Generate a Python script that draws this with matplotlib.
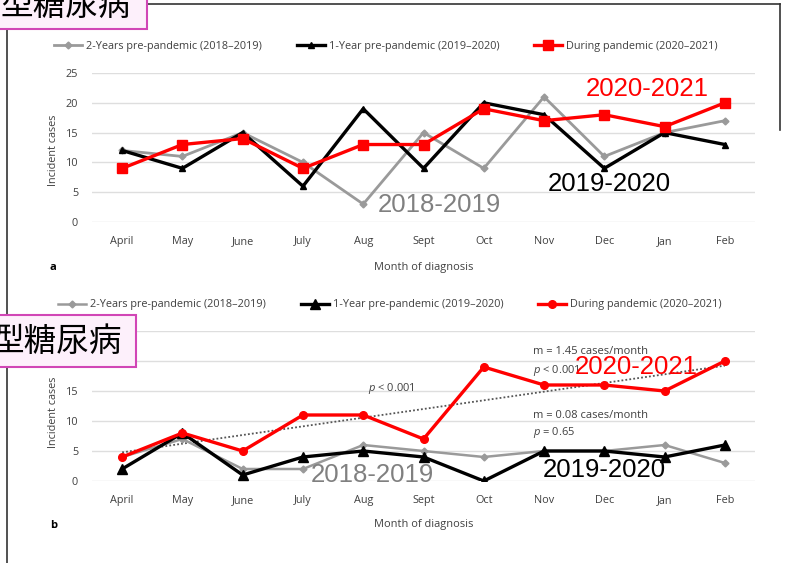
import numpy as np
import matplotlib
matplotlib.use('Agg')
import matplotlib.pyplot as plt
from matplotlib.patches import Rectangle
from matplotlib.lines import Line2D

W, H = 785, 563

months = ['April', 'May', 'June', 'July', 'Aug', 'Sept', 'Oct', 'Nov', 'Dec', 'Jan', 'Feb']
series_names = ['2-Years pre-pandemic (2018\u20132019)',
                '1-Year pre-pandemic (2019\u20132020)',
                'During pandemic (2020\u20132021)']

# panel a
a_2018 = [12, 11, 15, 10, 3, 15, 9, 21, 11, 15, 17]
a_2019 = [12, 9, 15, 6, 19, 9, 20, 18, 9, 15, 13]
a_2020 = [9, 13, 14, 9, 13, 13, 19, 17, 18, 16, 20]

# panel b
b_2018 = [4, 7, 2, 2, 6, 5, 4, 5, 5, 6, 3]
b_2019 = [2, 8, 1, 4, 5, 4, 0, 5, 5, 4, 6]
b_2020 = [4, 8, 5, 11, 11, 7, 19, 16, 16, 15, 20]

yticks = [0, 5, 10, 15, 20, 25]

plt.rcParams['font.family'] = ['Open Sans', 'DejaVu Sans']
plt.rcParams['mathtext.fontset'] = 'custom'
plt.rcParams['mathtext.it'] = 'Open Sans:italic'
plt.rcParams['mathtext.rm'] = 'Open Sans'

TXT = '#404040'
GRAY = '#9a9a9a'


def fx(x):
    return x / W


def fy(y):
    return 1 - y / H


def add_axes_px(x0, x1, y0, y1):
    return fig.add_axes([fx(x0), fy(y1), (x1 - x0) / W, (y1 - y0) / H])


def style_axes(ax):
    ax.set_xlim(-0.5, len(months) - 0.5)
    ax.set_ylim(0, 25)
    ax.set_yticks(yticks)
    ax.set_xticks(range(len(months)))
    ax.set_xticklabels(months)
    ax.yaxis.grid(True, color='#dedede', lw=1)
    ax.set_axisbelow(True)
    for s in ax.spines.values():
        s.set_visible(False)
    ax.tick_params(axis='both', length=0, labelsize=7.8, labelcolor=TXT)
    ax.tick_params(axis='y', pad=10)
    ax.tick_params(axis='x', pad=10)


fig = plt.figure(figsize=(W / 100, H / 100), dpi=100)
leg_kw = dict(loc='center', ncol=3, frameon=False, fontsize=7.8, handlelength=2.6,
              handletextpad=0.35, columnspacing=3.2, labelcolor=TXT)

# ---- panel a ----
ax1 = add_axes_px(92, 755, 73, 222)
style_axes(ax1)
x = np.arange(len(months))
l1, = ax1.plot(x, a_2018, color=GRAY, lw=2, marker='D', ms=3.5, label=series_names[0])
l2, = ax1.plot(x, a_2019, color='black', lw=2.4, marker='^', ms=5, label=series_names[1])
l3, = ax1.plot(x, a_2020, color='red', lw=2.4, marker='s', ms=7, label=series_names[2])
fig.legend(handles=[l1, l2, l3], bbox_to_anchor=(fx(386), fy(46)), **leg_kw)

# ---- panel b ----
ax2 = add_axes_px(92, 755, 331, 481)
style_axes(ax2)
m1, = ax2.plot(x, b_2018, color=GRAY, lw=1.8, marker='D', ms=3.5, label=series_names[0])
m2, = ax2.plot(x, b_2019, color='black', lw=2.4, marker='^', ms=6.5, label=series_names[1])
m3, = ax2.plot(x, b_2020, color='red', lw=2.4, marker='o', ms=5.5, label=series_names[2])
slope, icpt = np.polyfit(x, b_2020, 1)
ax2.plot(x, slope * x + icpt, color='#555555', lw=1.3, ls=(0, (1, 1.2)), zorder=1.5)
fig.legend(handles=[m1, m2, m3], bbox_to_anchor=(fx(390), fy(305)), **leg_kw)

ann = dict(transform=fig.transFigure, fontsize=8, color=TXT, va='center')
ax2.text(fx(368), fy(388), '$p$ < 0.001', **ann)
ax2.text(fx(533), fy(352), 'm = 1.45 cases/month', **ann)
ax2.text(fx(533), fy(370), '$p$ < 0.001', **ann)
ax2.text(fx(533), fy(415), 'm = 0.08 cases/month', **ann)
ax2.text(fx(533), fy(433), '$p$ = 0.65', **ann)

# axis labels
for yc, lab, yl in [(267, 'a', 150), (525, 'b', 412)]:
    fig.text(fx(424), fy(yc), 'Month of diagnosis', fontsize=7.9, color=TXT,
             ha='center', va='center')
    fig.text(fx(50), fy(yc), lab, fontsize=8, fontweight='bold', color='black',
             ha='left', va='center')
    fig.text(fx(53), fy(yl), 'Incident cases', fontsize=7.8, color=TXT,
             ha='center', va='center', rotation=90)

# big overlay labels
big = dict(family='Liberation Sans', fontsize=18.5, ha='center', va='center')
fig.text(fx(647), fy(89), '2020-2021', color='red', **big)
fig.text(fx(609), fy(184), '2019-2020', color='black', **big)
fig.text(fx(439), fy(205), '2018-2019', color='#808080', **big)
fig.text(fx(636), fy(367), '2020-2021', color='red', **big)
fig.text(fx(604), fy(470), '2019-2020', color='black', **big)
fig.text(fx(372), fy(475), '2018-2019', color='#808080', **big)

# slide frame lines
fig.add_artist(Line2D([fx(147), fx(780)], [fy(4), fy(4)], color='#333333', lw=1.2))
fig.add_artist(Line2D([fx(780), fx(780)], [fy(4), fy(130)], color='#333333', lw=1.2))
fig.add_artist(Line2D([fx(7), fx(7)], [fy(29), fy(563)], color='#333333', lw=1.2))

# title boxes (left part cut off)
for (x0, y0, x1, y1), ty, tx in [((-5, -5, 147, 29), 6, 131), ((-5, 315, 136, 367), 342, 122)]:
    fig.add_artist(Rectangle((fx(x0), fy(y1)), (x1 - x0) / W, (y1 - y0) / H,
                             transform=fig.transFigure, facecolor='#fdf0fb',
                             edgecolor='#d146b6', lw=1.5, zorder=5))
    fig.text(fx(tx), fy(ty), '型糖尿病', family=['Noto Sans CJK JP', 'DejaVu Sans'],
             fontsize=23.5, ha='right', va='center', color='black', zorder=6)

fig.savefig('out.png', dpi=100)
